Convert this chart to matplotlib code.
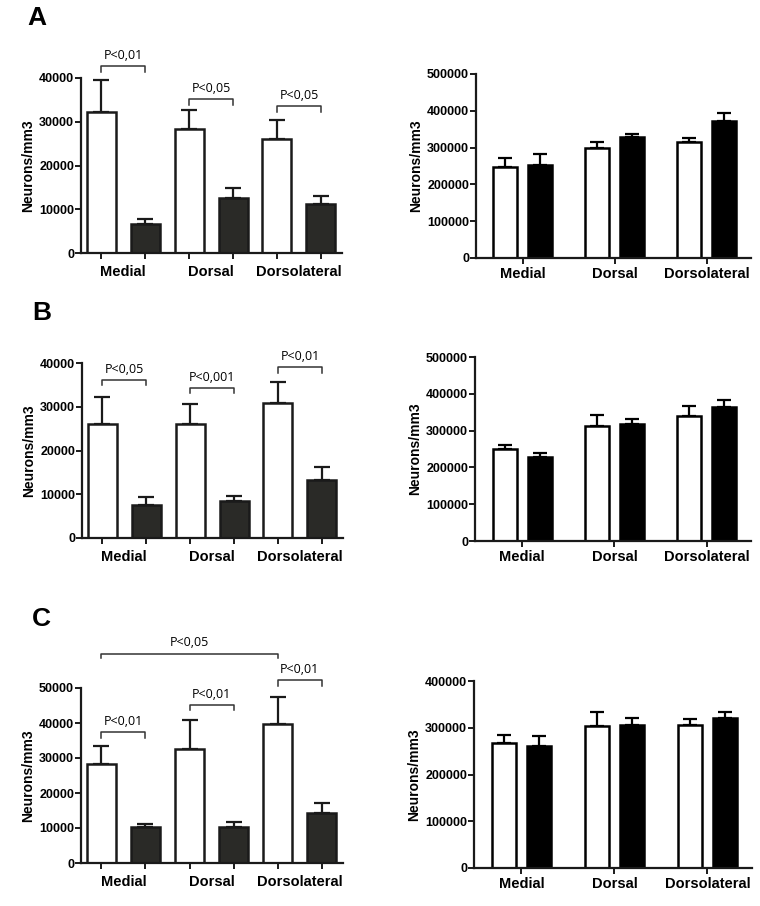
import numpy as np
import matplotlib
matplotlib.use('Agg')
import matplotlib.pyplot as plt

plt.rcParams['font.family'] = 'Liberation Sans'

regions = ['Medial', 'Dorsal', 'Dorsolateral']

# panel A
a_left_white = [32300, 28400, 26000]; a_left_white_err = [7200, 4200, 4500]
a_left_black = [6700, 12600, 11100]; a_left_black_err = [1100, 2200, 1900]
a_right_white = [248600, 298400, 316500]; a_right_white_err = [23600, 18100, 10800]
a_right_black = [251400, 329100, 373400]; a_right_black_err = [30700, 7300, 20800]
a_pvals = ['P<0,01', 'P<0,05', 'P<0,05']; a_brk = [42660, 35140, 33550]
# panel B
b_left_white = [26000, 26000, 30900]; b_left_white_err = [6300, 4700, 4800]
b_left_black = [7600, 8500, 13300]; b_left_black_err = [1700, 1100, 3000]
b_right_white = [250500, 313700, 339100]; b_right_white_err = [9900, 29000, 28900]
b_right_black = [227000, 318300, 365300]; b_right_black_err = [12600, 14400, 19000]
b_pvals = ['P<0,05', 'P<0,001', 'P<0,01']; b_brk = [36200, 34380, 39090]
# panel C
c_left_white = [28300, 32600, 39600]; c_left_white_err = [5100, 8400, 7800]
c_left_black = [10400, 10400, 14400]; c_left_black_err = [800, 1300, 2700]
c_right_white = [266400, 304300, 305000]; c_right_white_err = [17900, 30000, 12900]
c_right_black = [260700, 305700, 321400]; c_right_black_err = [22200, 15700, 12900]
c_pvals = ['P<0,01', 'P<0,01', 'P<0,01']; c_brk = [37480, 45260, 52180]
c_wide_p = 'P<0,05'; c_wide_brk = 59770

W, H = 760, 906
fig = plt.figure(figsize=(W/100, H/100), dpi=100)

def axes_px(x0, x1, ytop, ybot):
    return fig.add_axes([x0/W, 1-ybot/H, (x1-x0)/W, (ybot-ytop)/H])

def style(ax, ymax, step):
    for s in ['top', 'right']:
        ax.spines[s].set_visible(False)
    for s in ['left', 'bottom']:
        ax.spines[s].set_linewidth(1.6); ax.spines[s].set_color('#1a1a1a')
    ax.set_ylim(0, ymax)
    ax.set_yticks(np.arange(0, ymax+1, step))
    ax.set_yticklabels([str(int(v)) for v in np.arange(0, ymax+1, step)],
                       fontsize=9, fontweight='bold')
    ax.tick_params(axis='both', direction='out', length=4, width=1.4, color='#1a1a1a', pad=1)
    ax.set_ylabel('Neurons/mm3', fontsize=10, fontweight='bold', labelpad=3)

def cat_labels(ax, drop):
    for i, r in enumerate(regions):
        ax.annotate(r, (i, 0), xytext=(0, -drop), textcoords='offset points', ha='center',
                    va='top', fontsize=10.5, fontweight='bold', annotation_clip=False)

def left_panel(rect, white, werr, black, berr, ymax, pvals, brk, drop):
    ax = axes_px(*rect)
    x = np.arange(3); off, w = 0.25, 0.33
    ax.errorbar(x-off, white, yerr=[np.zeros(3), werr], fmt='none', ecolor='#1a1a1a',
                elinewidth=1.6, capsize=6, capthick=1.6, zorder=1)
    ax.errorbar(x+off, black, yerr=[np.zeros(3), berr], fmt='none', ecolor='#1a1a1a',
                elinewidth=1.6, capsize=6, capthick=1.6, zorder=1)
    ax.bar(x-off, white, w, color='white', edgecolor='#1a1a1a', linewidth=1.8, zorder=2)
    ax.bar(x+off, black, w, color='#2a2a27', edgecolor='#1a1a1a', linewidth=1.8, zorder=2)
    ax.set_xlim(-0.48, 2.49)
    style(ax, ymax, 10000)
    ax.set_xticks(np.concatenate([x-off, x+off]))
    ax.set_xticklabels([''] * 6)
    cat_labels(ax, 8.5)
    for i, (p, yb) in enumerate(zip(pvals, brk)):
        ax.plot([i-off, i-off, i+off, i+off], [yb-drop, yb, yb, yb-drop], color='#333333',
                lw=1.1, clip_on=False)
        ax.annotate(p, (i, yb), xytext=(0, 7.5), textcoords='offset points', ha='center',
                    va='center', fontsize=9, family='Open Sans', annotation_clip=False)
    return ax

def right_panel(rect, white, werr, black, berr, ymax):
    ax = axes_px(*rect)
    x = np.arange(3); off, w = 0.19, 0.26
    ax.errorbar(x-off, white, yerr=[np.zeros(3), werr], fmt='none', ecolor='black',
                elinewidth=1.6, capsize=4.7, capthick=1.6, zorder=1)
    ax.errorbar(x+off, black, yerr=[np.zeros(3), berr], fmt='none', ecolor='black',
                elinewidth=1.6, capsize=4.7, capthick=1.6, zorder=1)
    ax.bar(x-off, white, w, color='white', edgecolor='black', linewidth=1.8, zorder=2)
    ax.bar(x+off, black, w, color='black', edgecolor='black', linewidth=1.8, zorder=2)
    ax.set_xlim(-0.51, 2.48)
    style(ax, ymax, 100000)
    ax.set_xticks(x)
    ax.set_xticklabels([''] * 3)
    cat_labels(ax, 6.5)
    return ax

left_panel((81, 342, 78, 253), a_left_white, a_left_white_err, a_left_black, a_left_black_err,
           40000, a_pvals, a_brk, 1300)
right_panel((476, 751, 74, 258), a_right_white, a_right_white_err, a_right_black,
            a_right_black_err, 500000)
left_panel((82, 343, 363, 538), b_left_white, b_left_white_err, b_left_black, b_left_black_err,
           40000, b_pvals, b_brk, 1300)
right_panel((475, 751, 357, 541), b_right_white, b_right_white_err, b_right_black,
            b_right_black_err, 500000)
axc = left_panel((81, 343, 688, 863), c_left_white, c_left_white_err, c_left_black,
                 c_left_black_err, 50000, c_pvals, c_brk, 1630)
axc.plot([-0.25, -0.25, 1.75, 1.75], [c_wide_brk-1140, c_wide_brk, c_wide_brk, c_wide_brk-1140],
         color='#333333', lw=1.1, clip_on=False)
axc.annotate(c_wide_p, (0.75, c_wide_brk), xytext=(0, 8), textcoords='offset points',
             ha='center', va='center', fontsize=9, family='Open Sans', annotation_clip=False)
right_panel((474, 752, 681, 868), c_right_white, c_right_white_err, c_right_black,
            c_right_black_err, 400000)

for lab, (x, y) in zip('ABC', [(27, 6), (32, 301), (32, 607)]):
    fig.text(x/W, 1-y/H, lab, fontsize=19, fontweight='bold', ha='left', va='top')

fig.savefig('out.png', dpi=100)
